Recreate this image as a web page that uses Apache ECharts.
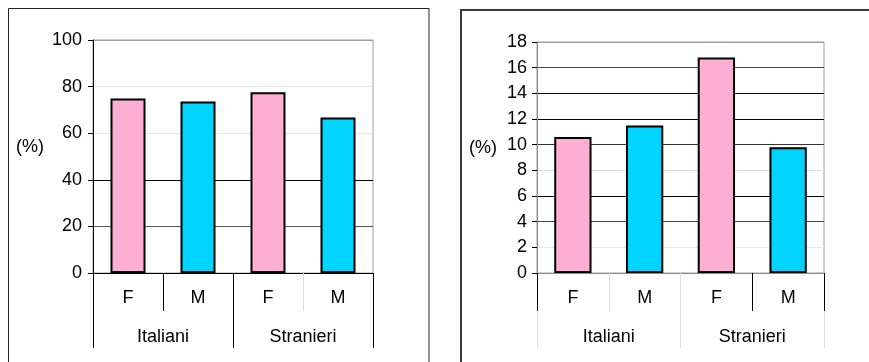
<!DOCTYPE html>
<html>
<head>
<meta charset="utf-8">
<script src="https://cdn.jsdelivr.net/npm/echarts@6/dist/echarts.min.js"></script>
<style>
  html, body { margin: 0; padding: 0; background: #fff; }
  #chart { width: 869px; height: 362px; }
</style>
</head>
<body>
<div id="chart"></div>
<script>
// Categories: sex within each citizenship group
const sexLabels = ['F', 'M', 'F', 'M'];
const groupLabels = ['Italiani', 'Stranieri'];

// Left panel values (%), 0-100 scale
const leftValues = [74.9, 73.6, 77.6, 66.7];
// Right panel values (%), 0-18 scale
const rightValues = [10.6, 11.5, 16.8, 9.8];

// Y scales
const leftScale = { min: 0, max: 100, interval: 20 };
const rightScale = { min: 0, max: 18, interval: 2 };

const PINK = '#FFAED5';
const CYAN = '#00D4FF';
const FONT = { fontFamily: '"Liberation Sans", Arial, sans-serif', fontSize: 18, color: '#000' };

// Grid line shades, from the zero line upwards
const leftGridShades = ['#000', '#555', '#000', '#e6e6e6', '#e6e6e6', '#a0a0a0'];
const rightGridShades = ['#000', '#e8e8e8', '#444', '#000', '#e0e0e0', '#333', '#000', '#111', '#444', '#a0a0a0'];

function tickAxis(gridIndex, data, opt) {
  return Object.assign({
    type: 'category',
    gridIndex: gridIndex,
    data: data,
    position: 'bottom',
    axisLine: { show: false },
    axisTick: { show: true, inside: false, length: 38, lineStyle: { color: '#000', width: 1 } },
    axisLabel: { show: false },
    splitLine: { show: false }
  }, opt);
}

function valueAxis(gridIndex, scale, shades, nameGap, axisColor, labelMargin) {
  return {
    type: 'value',
    gridIndex: gridIndex,
    min: scale.min, max: scale.max, interval: scale.interval,
    name: '(%)',
    nameLocation: 'middle',
    nameRotate: 0,
    nameGap: nameGap,
    nameTextStyle: Object.assign({}, FONT, { verticalAlign: 'bottom', align: 'right' }),
    axisLine: { show: true, lineStyle: { color: axisColor, width: 1 } },
    axisTick: { show: true, length: 5, lineStyle: { color: '#000' } },
    axisLabel: Object.assign({}, FONT, { margin: labelMargin }),
    splitLine: { show: true, lineStyle: { color: shades, width: 1 } }
  };
}

const chart = echarts.init(document.getElementById('chart'), null, { renderer: 'canvas' });

chart.setOption({
  animation: false,
  backgroundColor: '#fff',
  graphic: [
    { type: 'rect', silent: true, shape: { x: 8.5, y: 8.5, width: 420.5, height: 400 },
      style: { fill: null, stroke: '#222', lineWidth: 1 } },
    { type: 'rect', silent: true, shape: { x: 461, y: 10, width: 420, height: 400 },
      style: { fill: null, stroke: '#3a3a3a', lineWidth: 2 } }
  ],
  grid: [
    { left: 93, top: 40, width: 280, height: 233, show: true, borderColor: '#a0a0a0', borderWidth: 1, backgroundColor: 'transparent' },
    { left: 537, top: 42, width: 287, height: 231, show: true, borderColor: '#a0a0a0', borderWidth: 1, backgroundColor: 'transparent' }
  ],
  xAxis: [
    // left panel
    tickAxis(0, sexLabels, { axisTick: { show: true, length: 38, lineStyle: { color: '#dcdcdc' } } }),
    tickAxis(0, sexLabels, {
      axisLine: { show: true, lineStyle: { color: '#000', width: 1 } },
      axisTick: { show: true, length: 38, interval: function (i) { return i <= 1; }, lineStyle: { color: '#000' } },
      axisLabel: Object.assign({ show: true, margin: 16 }, FONT)
    }),
    tickAxis(0, groupLabels, {
      axisTick: { show: true, length: 75, lineStyle: { color: '#000' } },
      axisLabel: Object.assign({ show: true, margin: 55 }, FONT)
    }),
    // right panel
    tickAxis(1, sexLabels, { axisTick: { show: true, length: 38, lineStyle: { color: '#dcdcdc' } } }),
    tickAxis(1, groupLabels, {
      axisTick: { show: true, length: 75, lineStyle: { color: '#dcdcdc' } },
      axisLabel: Object.assign({ show: true, margin: 55 }, FONT)
    }),
    tickAxis(1, sexLabels, {
      axisLine: { show: true, lineStyle: { color: '#8a8a8a', width: 1 } },
      axisTick: { show: true, length: 38, interval: function (i) { return i === 0 || i === 3; }, lineStyle: { color: '#000' } },
      axisLabel: Object.assign({ show: true, margin: 16 }, FONT)
    })
  ],
  yAxis: [
    valueAxis(0, leftScale, leftGridShades, 49, '#000', 11),
    valueAxis(1, rightScale, rightGridShades, 40, '#8a8a8a', 10)
  ],
  series: [
    {
      type: 'bar',
      xAxisIndex: 1, yAxisIndex: 0,
      data: leftValues,
      barWidth: '50%',
      itemStyle: {
        color: function (p) { return sexLabels[p.dataIndex] === 'F' ? PINK : CYAN; },
        borderColor: '#000', borderWidth: 2
      }
    },
    {
      type: 'bar',
      xAxisIndex: 5, yAxisIndex: 1,
      data: rightValues,
      barWidth: '52%',
      itemStyle: {
        color: function (p) { return sexLabels[p.dataIndex] === 'F' ? PINK : CYAN; },
        borderColor: '#000', borderWidth: 2
      }
    }
  ]
});
</script>
</body>
</html>
